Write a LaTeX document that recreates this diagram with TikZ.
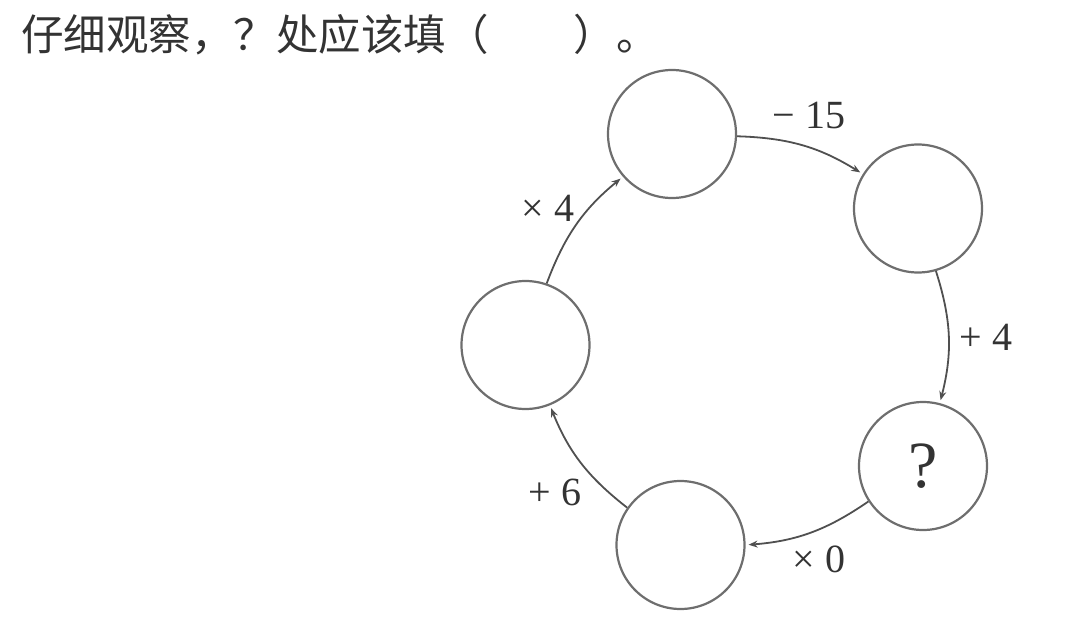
\documentclass[tikz,border=0pt]{standalone}
\usepackage{fontspec}
\setmainfont{Liberation Serif}
\newfontfamily\cjk{Noto Sans CJK SC}
\usetikzlibrary{arrows.meta}
\definecolor{ringgray}{HTML}{6E6E6E}
\definecolor{arrowgray}{HTML}{505050}
\definecolor{textgray}{HTML}{333333}
\begin{document}
\begin{tikzpicture}[
		x=1pt, y=-1pt,
		ring/.style={draw=ringgray, line width=2.2pt, circle, minimum size=128pt, inner sep=0pt, text=textgray},
		arrow/.style={-{Stealth[length=9pt, width=7pt]}, draw=arrowgray, line width=1.8pt, shorten >=3pt},
		lbl/.style={font=\fontsize{40}{40}\selectfont, text=textgray, inner sep=0pt},
	]
	\useasboundingbox (0, 0) rectangle (1080, 643);

	\node[anchor=base west, inner sep=0pt, text=textgray, font=\cjk\fontsize{42.5}{42.5}\selectfont] (title) at (21, 50) {仔细观察，？处应该填（　　）。};

	\node[ring] (n1) at (672, 134) {};
	\node[ring] (n2) at (918, 208.5) {};
	\node[ring, font=\fontsize{66}{66}\selectfont] (n3) at (923, 466) {?};
	\node[ring] (n4) at (680.5, 545) {};
	\node[ring] (n5) at (525.5, 345) {};

	\draw[arrow] (n1.-2) to[bend left=15] (n2.148);
	\draw[arrow] (n2.-74) to[bend left=16] (n3.75);
	\draw[arrow] (n3.213) to[bend left=15] (n4.0);
	\draw[arrow] (n4.145) to[bend left=15] (n5.-68);
	\draw[arrow] (n5.71) to[bend left=15] (n1.221);

	\node[lbl] (l1) at (809, 115) {− 15};
	\node[lbl] (l2) at (986, 337) {+ 4};
	\node[lbl] (l3) at (819, 559) {× 0};
	\node[lbl] (l4) at (555, 492) {+ 6};
	\node[lbl] (l5) at (548, 208) {× 4};
\end{tikzpicture}
\end{document}
